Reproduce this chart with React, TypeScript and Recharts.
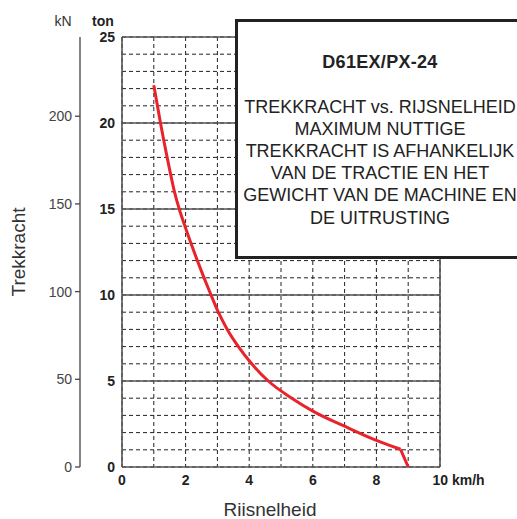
import React from 'react';
import { LineChart, Line, XAxis, YAxis, CartesianGrid, ReferenceLine } from 'recharts';

const speedKmh = [1, 1.21, 1.42, 1.65, 1.8, 1.98, 2.37, 2.8, 3.03, 3.31, 3.66, 4.08, 4.6, 5.34, 6, 7, 8, 8.76, 9];
const forceTon = [22.2, 20, 18, 16, 15, 14, 12, 10, 9, 8, 7, 6, 5, 4, 3.25, 2.37, 1.55, 1.03, 0];

const xTicks = [0, 1, 2, 3, 4, 5, 6, 7, 8, 9, 10];
const xLabelTicks = [0, 2, 4, 6, 8, 10];
const tonTicks = [0, 1, 2, 3, 4, 5, 6, 7, 8, 9, 10, 11, 12, 13, 14, 15, 16, 17, 18, 19, 20, 21, 22, 23, 24, 25];
const tonMajor = [0, 5, 10, 15, 20, 25];
const knTicks = [0, 50, 100, 150, 200];
const KN_PER_TON = 9.80665;
const knMax = 25 * KN_PER_TON;

const boxTitle = 'D61EX/PX-24';
const boxLines = [
  'TREKKRACHT vs. RIJSNELHEID',
  'MAXIMUM NUTTIGE',
  'TREKKRACHT IS AFHANKELIJK',
  'VAN DE TRACTIE EN HET',
  'GEWICHT VAN DE MACHINE EN',
  'DE UITRUSTING',
];

const last = speedKmh.length - 1;
// smooth part up to the knee, straight tail from the knee to the end
const data = speedKmh.map((s, i) => ({
  s,
  f: i < last ? forceTon[i] : null,
  tail: i >= last - 1 ? forceTon[i] : null,
  kn: forceTon[i] * KN_PER_TON,
}));

const FONT = '"Liberation Sans", Arial, Helvetica, sans-serif';
const TON = 'aton';
const KN = 'bkn';

const XTick = (props: any) => {
  const { x, y, payload } = props;
  const v = payload.value;
  if (!xLabelTicks.includes(v)) return <g />;
  if (v === 10) {
    return (
      <text x={x - 7.5} y={y + 18} textAnchor="start" fontFamily={FONT} fontWeight="bold" fontSize={14} fill="#222">
        10 km/h
      </text>
    );
  }
  return (
    <text x={x} y={y + 18} textAnchor="middle" fontFamily={FONT} fontWeight="bold" fontSize={14} fill="#222">
      {v}
    </text>
  );
};

const TonTick = (props: any) => {
  const { x, y, payload } = props;
  const v = payload.value;
  if (!tonMajor.includes(v)) return <g />;
  return (
    <text x={x - 7} y={y + 5} textAnchor="end" fontFamily={FONT} fontWeight="bold" fontSize={14} fill="#222">
      {v}
    </text>
  );
};

const TonLabel = (props: any) => {
  const vb = props.viewBox || {};
  return (
    <text x={103} y={vb.y - 11} textAnchor="middle" fontFamily={FONT} fontWeight="bold" fontSize={14} fill="#222">
      ton
    </text>
  );
};

const KnLabel = (props: any) => {
  const vb = props.viewBox || {};
  const cy = vb.y + vb.height / 2;
  return (
    <g>
      <text x={63} y={vb.y - 11} textAnchor="middle" fontFamily={FONT} fontSize={14} fill="#333">
        kN
      </text>
      <text
        x={18}
        y={cy}
        transform={`rotate(-90 18 ${cy})`}
        textAnchor="middle"
        dominantBaseline="central"
        fontFamily={FONT}
        fontSize={19}
        fill="#333"
      >
        Trekkracht
      </text>
    </g>
  );
};

const XLabel = (props: any) => {
  const vb = props.viewBox || {};
  return (
    <text x={vb.x + vb.width / 2 - 11} y={515.5} textAnchor="middle" fontFamily={FONT} fontSize={19} fill="#333">
      Riisnelheid
    </text>
  );
};

export default function App() {
  return (
    <div style={{ position: 'absolute', left: 0, top: 0, width: 517, height: 519, overflow: 'hidden', background: '#fff' }}>
      <LineChart width={517} height={519} data={data} margin={{ top: 37, right: 77, bottom: 0, left: 0 }}>
        <CartesianGrid yAxisId={TON} stroke="#222" strokeDasharray="4 3" strokeWidth={1} />
        <XAxis
          dataKey="s"
          type="number"
          domain={[0, 10]}
          ticks={xTicks}
          interval={0}
          axisLine={false}
          tickLine={false}
          tickSize={0}
          tickMargin={0}
          height={52}
          tick={<XTick />}
          label={<XLabel />}
        />
        <YAxis
          yAxisId={TON}
          orientation="left"
          type="number"
          domain={[0, 25]}
          ticks={tonTicks}
          interval={0}
          axisLine={false}
          tickLine={false}
          tickSize={0}
          tickMargin={0}
          width={42}
          tick={<TonTick />}
          label={<TonLabel />}
        />
        <YAxis
          yAxisId={KN}
          orientation="left"
          type="number"
          domain={[0, knMax]}
          ticks={knTicks}
          interval={0}
          axisLine={{ stroke: '#444', strokeWidth: 1.3 }}
          tickLine={{ stroke: '#444', strokeWidth: 1.3 }}
          tickSize={5}
          tickMargin={3}
          width={80}
          tick={{ fontFamily: FONT, fontSize: 14, fill: '#444' }}
          label={<KnLabel />}
        />
        {tonMajor.map((t) => (
          <ReferenceLine key={'h' + t} yAxisId={TON} y={t} stroke="#555" strokeWidth={1.6} ifOverflow="visible" />
        ))}
        <ReferenceLine yAxisId={TON} x={0} stroke="#555" strokeWidth={1.6} ifOverflow="visible" />
        <ReferenceLine yAxisId={TON} x={10} stroke="#555" strokeWidth={1.6} ifOverflow="visible" />
        <Line
          yAxisId={KN}
          dataKey="kn"
          type="monotone"
          stroke="none"
          strokeWidth={0}
          dot={false}
          activeDot={false}
          isAnimationActive={false}
        />
        <Line
          yAxisId={TON}
          dataKey="f"
          type="monotone"
          stroke="#e8232b"
          strokeWidth={3}
          dot={false}
          activeDot={false}
          connectNulls={false}
          isAnimationActive={false}
        />
        <Line
          yAxisId={TON}
          dataKey="tail"
          type="linear"
          stroke="#e8232b"
          strokeWidth={3}
          strokeLinejoin="round"
          dot={false}
          activeDot={false}
          connectNulls={false}
          isAnimationActive={false}
        />
      </LineChart>
      <div
        style={{
          position: 'absolute',
          left: 235,
          top: 19,
          width: 300,
          height: 240,
          boxSizing: 'border-box',
          border: '3px solid #222',
          background: '#fff',
        }}
      />
      <div
        style={{
          position: 'absolute',
          left: 235,
          top: 51.7,
          width: 290,
          textAlign: 'center',
          fontFamily: FONT,
          fontWeight: 'bold',
          fontSize: 18,
          lineHeight: '20px',
          letterSpacing: '0.3px',
          color: '#222',
          whiteSpace: 'nowrap',
        }}
      >
        {boxTitle}
      </div>
      <div
        style={{
          position: 'absolute',
          left: 235,
          top: 96.1,
          width: 290,
          textAlign: 'center',
          fontFamily: FONT,
          fontSize: 18,
          lineHeight: '22.1px',
          color: '#222',
          whiteSpace: 'nowrap',
        }}
      >
        {boxLines.map((l) => (
          <div key={l}>{l}</div>
        ))}
      </div>
    </div>
  );
}
